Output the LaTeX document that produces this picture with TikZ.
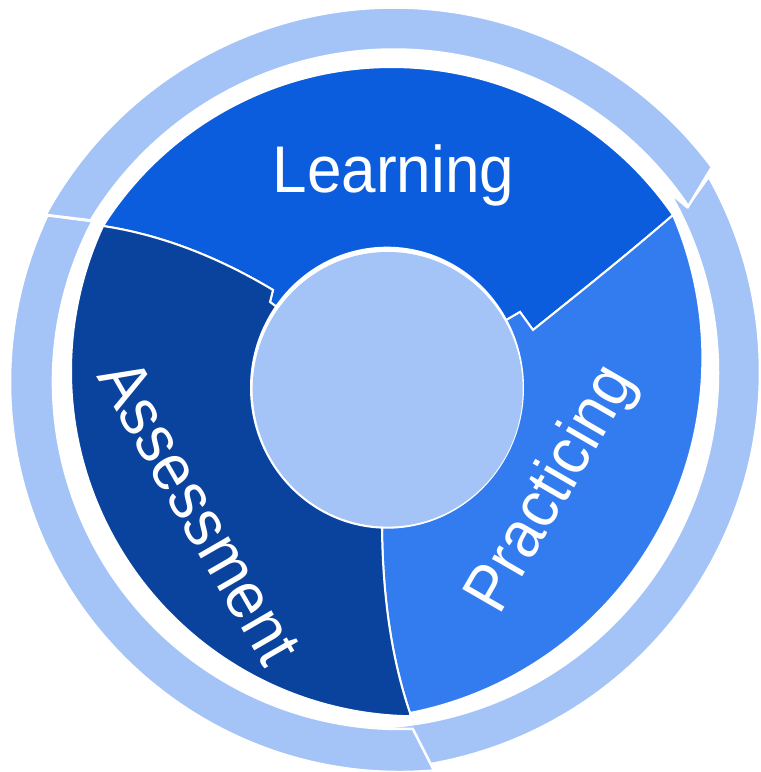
\documentclass[tikz,border=0pt]{standalone}
\usepackage{fontspec}
\setmainfont{Liberation Sans}
\usetikzlibrary{calc}
\definecolor{ringblue}{HTML}{A4C4F7}
\definecolor{learnblue}{HTML}{0C5DDD}
\definecolor{practblue}{HTML}{327CF0}
\definecolor{assessblue}{HTML}{0A439D}
\tikzset{
  ringseg/.style={fill=ringblue, draw=white, line width=2.5pt, line join=miter},
  sector/.style={draw=white, line width=2pt, line join=miter},
  label/.style={text=white, inner sep=0pt, font=\fontsize{66}{66}\selectfont},
}
\begin{document}
\begin{tikzpicture}[x=1pt,y=1pt]
\fill[white] (0,0) rectangle (761,772);
\useasboundingbox (0,0) rectangle (761,772);
% ring segments
\coordinate (cR) at (362,400);
\coordinate (cL) at (400,390);
\coordinate (cT) at (394,368);
\coordinate (apex) at (687,565);
\path[ringseg] ($(cR)+(29.4:398)$) arc[start angle=29.4, end angle=-82.5, radius=398]
  -- ($(cR)+(-85.2:356)$) arc[start angle=-85.2, end angle=30.4, radius=356]
  -- (apex) -- cycle;
\path[ringseg] ($(cL)+(-85.0:390)$) arc[start angle=-85.0, end angle=-205.3, radius=390]
  -- ($(cL)+(-207.6:347)$) arc[start angle=-207.6, end angle=-87.9, radius=347] -- cycle;
\path[ringseg] ($(cT)+(151.5:396.5)$) arc[start angle=151.5, end angle=36.7, radius=396.5]
  -- ($(cT)+(33.9:354.5)$) arc[start angle=33.9, end angle=148.8, radius=354.5] -- cycle;
% disc sectors
\coordinate (mid) at (388,383);
\coordinate (la1) at (103,546);
\coordinate (la2) at (273,482);
\coordinate (la3) at (270,470);
\coordinate (lp1) at (673,557);
\coordinate (lp2) at (533,442);
\coordinate (lp3) at (520,460);
\coordinate (pa1) at (410,59);
\coordinate (pa2) at (382,242);
\path[sector, fill=learnblue] ($(391.6,363.6)+(147.7:341.4)$) arc[start angle=147.7, end angle=34.5, radius=341.4]
  -- (lp1) .. controls (622,513) and (574,475) .. (lp2) -- (lp3) -- (mid) -- (la3) -- (la2)
  .. controls (216,516.2) and (159.3,537.5) .. (la1) -- cycle;
\path[sector, fill=practblue] ($(340.6,414.1)+(23.3:361.8)$) arc[start angle=23.3, end angle=-78.9, radius=361.8]
  -- (pa1) .. controls (392,112) and (383,172) .. (pa2) -- (mid) -- (lp3) -- (lp2)
  .. controls (574,475) and (622,513) .. (lp1) -- cycle;
\path[sector, fill=assessblue] ($(416.1,400.8)+(-91:345.1)$) arc[start angle=-91, end angle=-204.9, radius=345.1]
  -- (la1) .. controls (159.3,537.5) and (216,516.2) .. (la2) -- (la3) -- (mid) -- (pa2)
  .. controls (383,172) and (392,112) .. (pa1) -- cycle;
% centre
\fill[white] (387,384.3) ellipse[x radius=137, y radius=141];
\fill[ringblue] (387.7,382.7) ellipse[x radius=135, y radius=137.3];
% labels
\node[label, anchor=base] (learn) at (393.4,579.3) {\scalebox{0.94}[1]{Learning}};
\node[label, rotate=-60] (assess) at (200,260) {\scalebox{0.94}[1]{Assessment}};
\node[label, rotate=60] (pract) at (553,282) {\scalebox{0.94}[1]{Practicing}};
\end{tikzpicture}
\end{document}
